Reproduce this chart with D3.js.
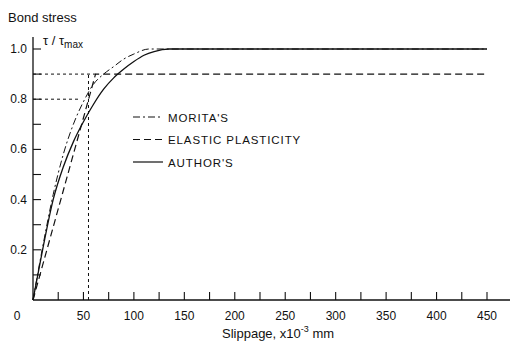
<!DOCTYPE html>
<html>
<head>
<meta charset="utf-8">
<script src="https://cdn.jsdelivr.net/npm/d3@7"></script>
<style>
  body { margin: 0; background: #fff; }
  text { font-family: "Liberation Sans", Arial, sans-serif; fill: #111; }
</style>
</head>
<body>
<script>
// data
var authors = [[0,0],[10,0.21],[20,0.4],[30,0.53],[40,0.63],[50,0.71],[60,0.78],[70,0.84],[80,0.885],[90,0.92],[100,0.95],[110,0.975],[120,0.99],[135,1.0],[450,1.0]];
var moritas = [[0,0],[10,0.22],[20,0.42],[30,0.58],[40,0.7],[50,0.79],[60,0.86],[70,0.9],[80,0.93],[90,0.96],[100,0.98],[115,1.0],[450,1.0]];
var elastic = [[0,0],[62,0.9],[450,0.9]];
var guides = [
  [[0,0.9],[62,0.9]],
  [[0,0.8],[46,0.8]],
  [[55,0],[55,0.9]]
];
var xTickLabels = [50,100,150,200,250,300,350,400,450];
var yTickLabels = [0.2,0.4,0.6,0.8,1.0];
var legendItems = [
  {name: "MORITA'S", dash: "7,3,2,3"},
  {name: "ELASTIC PLASTICITY", dash: "7,4"},
  {name: "AUTHOR'S", dash: null}
];

var W = 513, H = 342;
var svg = d3.select("body").append("svg").attr("width", W).attr("height", H);

var x = d3.scaleLinear().domain([0, 450]).range([33, 487]);
var y = d3.scaleLinear().domain([0, 1]).range([300, 49]);

var ink = "#111";

// axes lines
svg.append("line").attr("x1", 33).attr("x2", 33).attr("y1", 300).attr("y2", 37)
  .attr("stroke", ink).attr("stroke-width", 1.3);
svg.append("line").attr("x1", 33).attr("x2", 510).attr("y1", 300).attr("y2", 300)
  .attr("stroke", ink).attr("stroke-width", 1.3);

// x ticks every 25, upward
svg.selectAll(".xt").data(d3.range(25, 451, 25)).enter().append("line")
  .attr("x1", d => x(d)).attr("x2", d => x(d))
  .attr("y1", 300).attr("y2", 292)
  .attr("stroke", ink).attr("stroke-width", 1.1);

// y ticks every 0.1, inward
svg.selectAll(".yt").data(d3.range(1, 11).map(d => d / 10)).enter().append("line")
  .attr("x1", 33).attr("x2", 41)
  .attr("y1", d => y(d)).attr("y2", d => y(d))
  .attr("stroke", ink).attr("stroke-width", 1.1);

// tick labels
svg.selectAll(".xl").data(xTickLabels).enter().append("text")
  .attr("x", d => x(d)).attr("y", 320)
  .attr("text-anchor", "middle").attr("font-size", 12)
  .text(d => d);
svg.append("text").attr("x", 17).attr("y", 320).attr("text-anchor", "middle")
  .attr("font-size", 12).text("0");

svg.selectAll(".yl").data(yTickLabels).enter().append("text")
  .attr("x", 27).attr("y", d => y(d) + 4)
  .attr("text-anchor", "end").attr("font-size", 12)
  .text(d => d.toFixed(1));

// titles
svg.append("text").attr("x", 8).attr("y", 22).attr("font-size", 13).text("Bond stress");
var tt = svg.append("text").attr("x", 43).attr("y", 45).attr("font-size", 13);
tt.append("tspan").text("\u03c4 / \u03c4");
tt.append("tspan").attr("font-size", 10).attr("dy", 3).text("max");

var xt = svg.append("text").attr("x", 222).attr("y", 338).attr("font-size", 13);
xt.append("tspan").text("Slippage, x10");
xt.append("tspan").attr("font-size", 9).attr("dy", -6).text("-3");
xt.append("tspan").attr("dy", 6).text("  mm");

var line = d3.line().x(d => x(d[0])).y(d => y(d[1]));
var curve = d3.line().x(d => x(d[0])).y(d => y(d[1])).curve(d3.curveMonotoneX);

// guides
svg.selectAll(".guide").data(guides).enter().append("path")
  .attr("d", line).attr("fill", "none").attr("stroke", ink)
  .attr("stroke-width", 1).attr("stroke-dasharray", "3,3");

svg.append("path").datum(elastic).attr("d", line)
  .attr("fill", "none").attr("stroke", ink).attr("stroke-width", 1.2)
  .attr("stroke-dasharray", "7,4");
svg.append("path").datum(moritas).attr("d", curve)
  .attr("fill", "none").attr("stroke", ink).attr("stroke-width", 1)
  .attr("stroke-dasharray", "7,3,2,3");
svg.append("path").datum(authors).attr("d", curve)
  .attr("fill", "none").attr("stroke", ink).attr("stroke-width", 1.3);

// legend
var lg = svg.selectAll(".lg").data(legendItems).enter().append("g")
  .attr("transform", (d, i) => "translate(0," + (117 + i * 22.5) + ")");
lg.append("line").attr("x1", 133).attr("x2", 163).attr("y1", 0).attr("y2", 0)
  .attr("stroke", ink).attr("stroke-width", 1.2)
  .attr("stroke-dasharray", d => d.dash);
lg.append("text").attr("x", 168).attr("y", 4.5).attr("font-size", 11.5)
  .attr("letter-spacing", 0.9).text(d => d.name);
</script>
</body>
</html>
